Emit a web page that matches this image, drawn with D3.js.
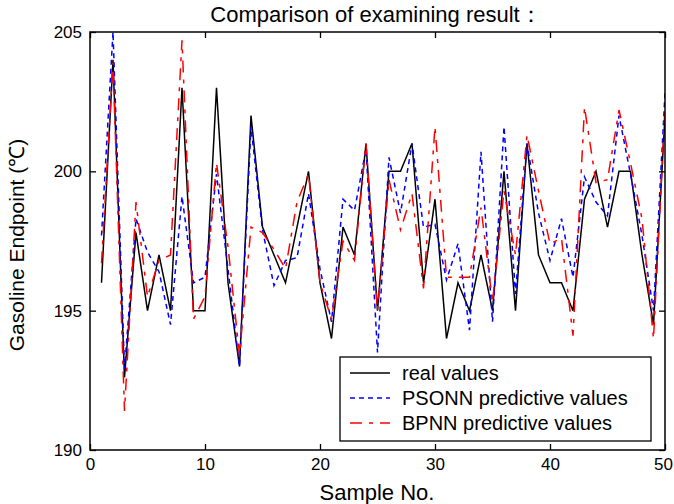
<!DOCTYPE html>
<html>
<head>
<meta charset="utf-8">
<script src="https://cdn.jsdelivr.net/npm/d3@7"></script>
<style>
  body { margin: 0; background: #fff; }
  svg { display: block; font-family: "Liberation Sans", Arial, sans-serif; }
</style>
</head>
<body>
<svg id="chart" width="674" height="504"></svg>
<script>
// values, samples 1..50
const samples = d3.range(1, 51);
const realValues = [196, 204, 192.6, 197.8, 195, 197, 195, 203, 195, 195,
  203, 196, 193, 202, 198, 197, 196, 198, 200, 196,
  194, 198, 197, 201, 195, 200, 200, 201, 196, 199,
  194, 196, 195, 197, 195, 200, 195, 201, 197, 196,
  196, 195, 199, 200, 198, 200, 200, 197, 194.5, 202];
const psonnValues = [197.7, 205, 192.9, 198.3, 197.1, 196.4, 194.5, 199.1, 196, 196.2,
  199.9, 196.5, 193, 201.6, 197.9, 195.9, 196.8, 196.9, 199.2, 196.5,
  194.6, 199, 198.6, 200.8, 193.5, 200.5, 198.5, 201, 198, 198.1,
  196.1, 197.4, 194.3, 200.7, 194.6, 201.6, 195.6, 201, 198.5, 196.8,
  198.3, 196.2, 199.8, 198.9, 198.4, 202, 199.9, 197.7, 195, 202.8];
const bpnnValues = [196.7, 203.9, 191.4, 198.9, 195.5, 196.8, 197, 204.7, 194.7, 195.5,
  200.3, 197.3, 193.4, 198, 197.8, 197.2, 196.5, 198.9, 199.9, 196,
  194.7, 197.5, 196.8, 201, 195, 199.7, 197.9, 199.2, 195.8, 201.6,
  196.2, 196.2, 196.2, 198.7, 195.3, 199.3, 197, 201.3, 199.3, 197.4,
  197.6, 194.1, 202.3, 199.6, 199.7, 202.2, 200.3, 198.3, 194, 202.3];
const xTicks = [0, 10, 20, 30, 40, 50];
const yTicks = [190, 195, 200, 205];
const seriesNames = ["real values", "PSONN predictive values", "BPNN predictive values"];

const svg = d3.select("#chart");
const mLeft = 90, mRight = 665, mTop = 32, mBottom = 450;

const x = d3.scaleLinear().domain([0, 50]).range([mLeft, mRight]);
const y = d3.scaleLinear().domain([190, 205]).range([mBottom, mTop]);

const series = [
  {name: seriesNames[0], values: realValues, color: "#000000", dash: null},
  {name: seriesNames[1], values: psonnValues, color: "#0000ff", dash: "5,4"},
  {name: seriesNames[2], values: bpnnValues, color: "#ff0000", dash: "12,7,4,7"}
];

// clip lines to axes box
svg.append("clipPath").attr("id", "plotclip")
  .append("rect").attr("x", mLeft).attr("y", mTop)
  .attr("width", mRight - mLeft).attr("height", mBottom - mTop);

const line = d3.line().x((d, i) => x(samples[i])).y(d => y(d));

const plot = svg.append("g").attr("clip-path", "url(#plotclip)");
series.forEach(s => {
  plot.append("path")
    .datum(s.values)
    .attr("d", line)
    .attr("fill", "none")
    .attr("stroke", s.color)
    .attr("stroke-width", 1.5)
    .attr("stroke-dasharray", s.dash);
});

// axes, ticks inward on all four sides (matlab style)
const axStyle = g => {
  g.select(".domain").remove();
  g.selectAll(".tick line").attr("stroke", "#000").attr("stroke-width", 1.3);
  g.selectAll("text").attr("fill", "#000").style("font-size", "17px");
};
svg.append("g").attr("transform", `translate(0,${mBottom})`)
  .call(d3.axisBottom(x).tickValues(xTicks).tickSize(-6).tickPadding(8))
  .call(axStyle)
  .call(g => g.selectAll("text").filter(d => d === 50).attr("dx", "-2"));
svg.append("g").attr("transform", `translate(0,${mTop})`)
  .call(d3.axisTop(x).tickValues(xTicks).tickSize(-6).tickFormat(""))
  .call(axStyle);
svg.append("g").attr("transform", `translate(${mLeft},0)`)
  .call(d3.axisLeft(y).tickValues(yTicks).tickSize(-6).tickPadding(8))
  .call(axStyle);
svg.append("g").attr("transform", `translate(${mRight},0)`)
  .call(d3.axisRight(y).tickValues(yTicks).tickSize(-6).tickFormat(""))
  .call(axStyle);

svg.append("rect")
  .attr("x", mLeft).attr("y", mTop)
  .attr("width", mRight - mLeft).attr("height", mBottom - mTop)
  .attr("fill", "none").attr("stroke", "#000").attr("stroke-width", 1.5);

// titles
svg.append("text").attr("x", 376).attr("y", 22)
  .attr("text-anchor", "middle").style("font-size", "22px")
  .text("Comparison of examining result：");
svg.append("text").attr("x", 377).attr("y", 500)
  .attr("text-anchor", "middle").style("font-size", "22px")
  .text("Sample No.");
svg.append("text")
  .attr("transform", `translate(24,${(mTop + mBottom) / 2 + 4}) rotate(-90)`)
  .attr("text-anchor", "middle").style("font-size", "21px")
  .text("Gasoline Endpoint (℃)");

// legend
const lg = svg.append("g");
lg.append("rect").attr("x", 340).attr("y", 357).attr("width", 311).attr("height", 84)
  .attr("fill", "#fff").attr("stroke", "#000").attr("stroke-width", 1.3);
series.forEach((s, i) => {
  const ly = 373 + i * 25;
  lg.append("line").attr("x1", 350).attr("x2", 390).attr("y1", ly).attr("y2", ly)
    .attr("stroke", s.color).attr("stroke-width", 1.5).attr("stroke-dasharray", s.dash);
  lg.append("text").attr("x", 402).attr("y", ly + 7)
    .style("font-size", "20px").text(s.name);
});
</script>
</body>
</html>
